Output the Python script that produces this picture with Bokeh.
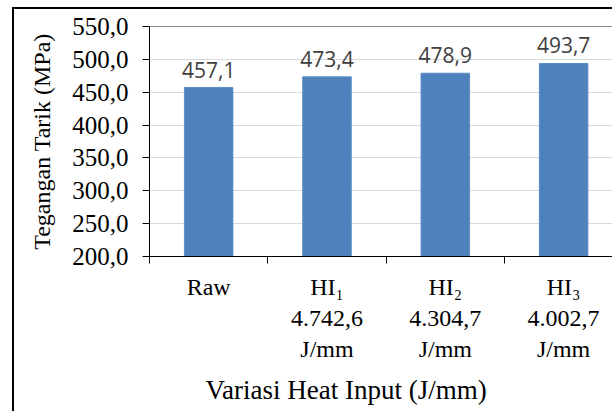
from bokeh.plotting import figure
from bokeh.models import Range1d, FixedTicker, Span, ColumnDataSource, Title
from bokeh.embed import file_html
from bokeh.resources import INLINE
from bokeh.core.properties import value

categories = ["Raw", "HI\u2081\n4.742,6\nJ/mm", "HI\u2082\n4.304,7\nJ/mm", "HI\u2083\n4.002,7\nJ/mm"]
values = [457.1, 473.4, 478.9, 493.7]
value_labels = ["457,1", "473,4", "478,9", "493,7"]
y_ticks = [200, 250, 300, 350, 400, 450, 500, 550]
y_tick_labels = ["200,0", "250,0", "300,0", "350,0", "400,0", "450,0", "500,0", "550,0"]
x_title = "Variasi Heat Input (J/mm)"
y_title = "Tegangan Tarik (MPa)"

positions = [i + 0.5 for i in range(len(categories))]
boundaries = [float(i) for i in range(len(categories) + 1)]

src = ColumnDataSource(data=dict(x=positions, top=values, label=value_labels))

p = figure(width=600, height=404, output_backend="svg", toolbar_location=None,
           x_range=Range1d(0, 3.93), y_range=Range1d(200, 550),
           min_border_left=135, min_border_right=0, min_border_top=17, min_border_bottom=156)
p.margin = (7, 0, 0, 12)
p.styles = {"border-left": "2px solid black", "border-top": "2px solid black"}
p.background_fill_color = "white"
p.border_fill_color = "white"
p.outline_line_color = None

p.vbar(x="x", top="top", bottom=200, width=0.41, source=src,
       fill_color="#4F81BD", line_color="#5B8CC6", line_width=1)
p.text(x="x", y="top", text="label", source=src, text_align="center",
       text_baseline="alphabetic", y_offset=-18, text_font=value("Open Sans"),
       text_font_size="21px", text_color="#404040")

p.add_layout(Span(location=550, dimension="width", line_color="#1a1a1a", line_width=1))

p.xgrid.grid_line_color = None
p.ygrid.grid_line_color = "#D9D9D9"
p.ygrid.grid_line_width = 1

xa = p.xaxis[0]
xa.ticker = FixedTicker(ticks=positions, minor_ticks=boundaries)
xa.major_label_overrides = {pos: lab for pos, lab in zip(positions, categories)}
xa.major_tick_out = 0
xa.major_tick_in = 0
xa.minor_tick_out = 7
xa.minor_tick_in = 0
xa.minor_tick_line_color = "black"
xa.axis_line_color = "black"
xa.major_label_text_font = "Liberation Serif"
xa.major_label_text_font_size = "24px"
xa.major_label_text_color = "black"
xa.major_label_text_line_height = 1.2
xa.major_label_standoff = 10

ya = p.yaxis[0]
ya.ticker = FixedTicker(ticks=y_ticks)
ya.major_label_overrides = {t: lab for t, lab in zip(y_ticks, y_tick_labels)}
ya.major_tick_out = 7
ya.major_tick_in = 0
ya.minor_tick_line_color = None
ya.axis_line_color = "black"
ya.major_tick_line_color = "black"
ya.major_label_text_font = "Liberation Serif"
ya.major_label_text_font_size = "25px"
ya.major_label_text_color = "black"
ya.major_label_standoff = 14
ya.axis_label = y_title
ya.axis_label_text_font = "Liberation Serif"
ya.axis_label_text_font_size = "24px"
ya.axis_label_text_font_style = "normal"
ya.axis_label_text_color = "black"
ya.axis_label_standoff = 14

p.add_layout(Title(text=x_title, align="left", offset=56, standoff=17,
                   text_font="Liberation Serif", text_font_size="27px",
                   text_font_style="normal", text_color="black"), "below")

open("out.html", "w").write(file_html(p, INLINE))
